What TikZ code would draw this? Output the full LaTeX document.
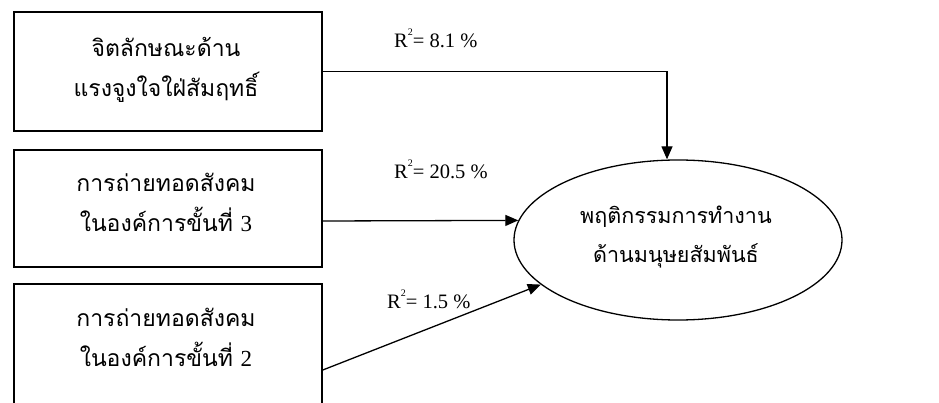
\documentclass[tikz,border=0pt]{standalone}
\usepackage{fontspec}
\setmainfont{Liberation Serif}
\newfontfamily\thaifont[Script=Thai]{Loma}
\usetikzlibrary{arrows.meta,shapes.geometric,calc}
\newcommand{\sqsup}{\raisebox{0.6em}{\fontsize{10}{10}\selectfont 2}}
\begin{document}
\begin{tikzpicture}[x=1pt,y=-1pt,
  box/.style={draw,line width=1.6pt,minimum width=308pt,inner sep=0pt},
  thaitxt/.style={align=center,font=\thaifont\fontsize{23}{40}\selectfont},
  thaiell/.style={align=center,font=\thaifont\fontsize{21.5}{39}\selectfont},
  rlabel/.style={anchor=west,inner sep=0pt,font=\fontsize{20.5}{22}\selectfont},
  conn/.style={line width=1.3pt,-{Triangle[length=13pt,width=11pt]}}]
\useasboundingbox (0,0) rectangle (939,403);
\node[box,minimum height=119pt] (b1) at (168,71.5) {};
\node[box,minimum height=117pt] (b2) at (168,208.5) {};
\node[box,minimum height=122pt] (b3) at (168,345) {};
\node[thaitxt] (t1) at (166,70) {จิตลักษณะด้าน\\แรงจูงใจใฝ่สัมฤทธิ์};
\node[thaitxt] (t2) at (166,202) {การถ่ายทอดสังคม\\ในองค์การขั้นที่ {\rmfamily 3}};
\node[thaitxt] (t3) at (166,337) {การถ่ายทอดสังคม\\ในองค์การขั้นที่ {\rmfamily 2}};
\node[draw,ellipse,line width=1.3pt,minimum width=328pt,minimum height=160pt,inner sep=0pt] (e) at (678,240) {};
\node[thaiell] (te) at (676,237) {พฤติกรรมการทำงาน\\ด้านมนุษยสัมพันธ์};
\node[rlabel] (l1) at (394,38) {R\sqsup= 8.1 \%};
\node[rlabel] (l2) at (394,169) {R\sqsup= 20.5 \%};
\node[rlabel] (l3) at (387,299) {R\sqsup= 1.5 \%};
\coordinate (a2) at ($(b2.east)+(0,12.5)$);
\coordinate (a3) at ($(b3.east)+(0,25)$);
\draw[conn] (b1.east) -| ([xshift=-11pt]e.north);
\draw[conn] (a2) -- (e.173);
\draw[conn] (a3) -- (e.198);
\end{tikzpicture}
\end{document}
